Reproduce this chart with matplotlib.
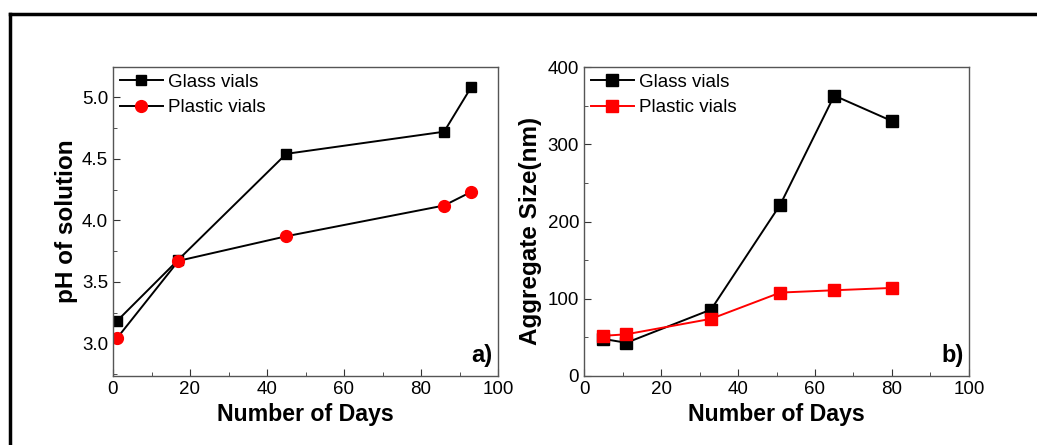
import numpy as np
import matplotlib
matplotlib.use('Agg')
import matplotlib.pyplot as plt
from matplotlib.lines import Line2D
from matplotlib.ticker import MultipleLocator

plt.rcParams['font.family'] = ['Liberation Sans', 'DejaVu Sans']

# pH data (panel a)
days_ph = [1, 17, 45, 86, 93]
ph_glass = [3.18, 3.68, 4.54, 4.72, 5.08]
ph_plastic = [3.04, 3.67, 3.87, 4.12, 4.23]

# aggregate size data (panel b)
days_size = [5, 11, 33, 51, 65, 80]
size_glass = [48, 43, 86, 222, 363, 330]
size_plastic = [52, 54, 74, 108, 111, 114]

labels = ['Glass vials', 'Plastic vials']

fig = plt.figure(figsize=(10.37, 4.45), dpi=100)

# outer frame lines (top and left)
fig.add_artist(Line2D([10 / 1037, 1.0], [1 - 14 / 445, 1 - 14 / 445],
                      transform=fig.transFigure, color='black', lw=2.5))
fig.add_artist(Line2D([10 / 1037, 10 / 1037], [0.0, 1 - 14 / 445],
                      transform=fig.transFigure, color='black', lw=2.5))

ax1 = fig.add_axes([113 / 1037, 1 - 376 / 445, 385 / 1037, 309 / 445])
ax2 = fig.add_axes([584 / 1037, 1 - 376 / 445, 385 / 1037, 309 / 445])


def style_axes(ax):
    for s in ax.spines.values():
        s.set_color('#555555')
        s.set_linewidth(1.0)
    ax.tick_params(which='both', direction='in', top=False, right=False,
                   labelsize=13.5, color='#333333')
    ax.tick_params(which='major', length=5)
    ax.tick_params(which='minor', length=3)
    ax.set_xlim(0, 100)
    ax.xaxis.set_major_locator(MultipleLocator(20))
    ax.xaxis.set_minor_locator(MultipleLocator(10))
    ax.set_xlabel('Number of Days', fontsize=16.7, fontweight='bold',
                  labelpad=4)


# panel a
ax1.plot(days_ph, ph_glass, color='black', lw=1.4, marker='s', ms=7.5,
         mfc='black', mec='black', label=labels[0])
ax1.plot(days_ph, ph_plastic, color='black', lw=1.4, marker='o', ms=8.5,
         mfc='red', mec='red', label=labels[1])
style_axes(ax1)
ax1.set_ylim(2.734, 5.246)
ax1.yaxis.set_major_locator(MultipleLocator(0.5))
ax1.yaxis.set_minor_locator(MultipleLocator(0.25))
ax1.yaxis.set_major_formatter(matplotlib.ticker.FormatStrFormatter('%.1f'))
ax1.set_ylabel('pH of solution', fontsize=17.5, fontweight='bold', labelpad=3)
ax1.legend(loc='upper left', frameon=False, fontsize=13.5, handlelength=2.3,
           handletextpad=0.3, borderaxespad=0.2, labelspacing=0.45,
           borderpad=0.15)
ax1.text(0.985, 0.03, 'a)', transform=ax1.transAxes, ha='right', va='bottom',
         fontsize=17, fontweight='bold')

# panel b
ax2.plot(days_size, size_glass, color='black', lw=1.4, marker='s', ms=8,
         mfc='black', mec='black', label=labels[0])
ax2.plot(days_size, size_plastic, color='red', lw=1.4, marker='s', ms=8,
         mfc='red', mec='red', label=labels[1])
style_axes(ax2)
ax2.set_ylim(0, 400)
ax2.yaxis.set_major_locator(MultipleLocator(100))
ax2.yaxis.set_minor_locator(MultipleLocator(50))
ax2.set_ylabel('Aggregate Size(nm)', fontsize=17.5, fontweight='bold',
               labelpad=3)
ax2.yaxis.set_label_coords(-0.11, 0.47)
ax2.legend(loc='upper left', frameon=False, fontsize=13.5, handlelength=2.3,
           handletextpad=0.3, borderaxespad=0.2, labelspacing=0.45,
           borderpad=0.15)
ax2.text(0.985, 0.03, 'b)', transform=ax2.transAxes, ha='right', va='bottom',
         fontsize=17, fontweight='bold')

fig.savefig('out.png', dpi=100)
